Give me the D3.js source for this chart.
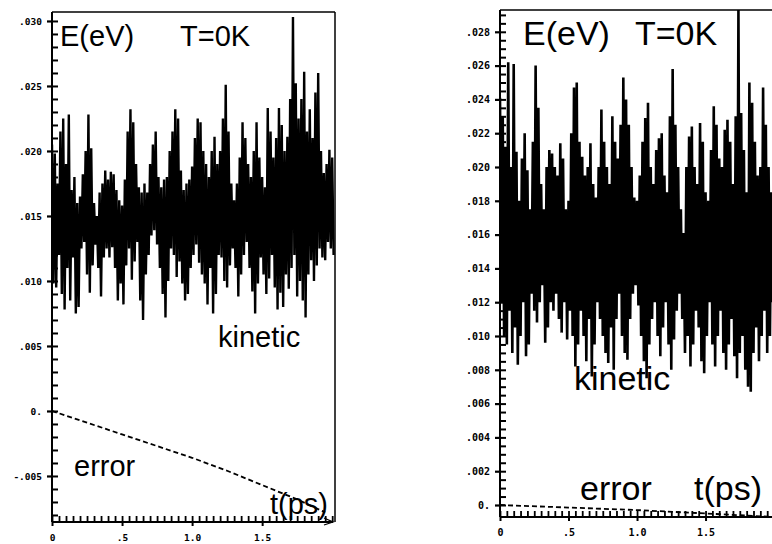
<!DOCTYPE html>
<html><head><meta charset="utf-8">
<script src="https://cdn.jsdelivr.net/npm/d3@7"></script>
<style>body{margin:0;background:#fff} svg{display:block}</style>
</head><body>
<svg id="c" width="772" height="544"></svg>
<script>
// ---- data (energies in eV, time in ps) ----
const tStep = 0.02;
const leftHi = [.0205,.0198,.0175,.0215,.0225,.0190,.0228,.0170,.0180,.0160,
 .0165,.0182,.0200,.0228,.0202,.0160,.0150,.0168,.0175,.0185,
 .0178,.0184,.0182,.0170,.0162,.0158,.0178,.0215,.0232,.0222,
 .0190,.0172,.0168,.0175,.0168,.0190,.0205,.0215,.0180,.0172,
 .0178,.0180,.0200,.0215,.0232,.0225,.0185,.0170,.0175,.0178,
 .0188,.0210,.0225,.0222,.0200,.0190,.0180,.0200,.0211,.0190,
 .0200,.0225,.0251,.0215,.0175,.0162,.0175,.0195,.0222,.0210,
 .0190,.0180,.0200,.0222,.0195,.0180,.0172,.0233,.0215,.0195,
 .0210,.0233,.0220,.0200,.0211,.0240,.0303,.0252,.0225,.0240,
 .0261,.0215,.0232,.0210,.0245,.0260,.0200,.0183,.0190,.0201,.0195];
const leftLo = [.0098,.0095,.0120,.0090,.0078,.0110,.0085,.0118,.0075,.0080,
 .0125,.0130,.0105,.0091,.0112,.0128,.0110,.0088,.0118,.0125,
 .0118,.0126,.0110,.0085,.0098,.0082,.0112,.0125,.0101,.0115,
 .0130,.0085,.0070,.0105,.0120,.0135,.0139,.0128,.0110,.0090,
 .0072,.0100,.0125,.0120,.0103,.0115,.0098,.0085,.0090,.0110,
 .0120,.0128,.0114,.0105,.0098,.0082,.0110,.0075,.0090,.0120,
 .0118,.0100,.0095,.0112,.0125,.0110,.0088,.0105,.0120,.0130,
 .0110,.0092,.0075,.0098,.0118,.0105,.0090,.0102,.0120,.0095,
 .0078,.0091,.0080,.0105,.0094,.0110,.0120,.0088,.0100,.0085,
 .0072,.0105,.0116,.0100,.0112,.0125,.0118,.0116,.0130,.0125,.0120];
const rightHi = [.0241,.0230,.0212,.0262,.0200,.0261,.0209,.0180,.0205,.0220,
 .0198,.0175,.0215,.0260,.0235,.0190,.0175,.0200,.0210,.0208,
 .0200,.0195,.0214,.0205,.0175,.0180,.0220,.0247,.0250,.0215,
 .0206,.0195,.0200,.0214,.0190,.0182,.0200,.0234,.0215,.0200,
 .0190,.0230,.0215,.0205,.0225,.0253,.0240,.0225,.0200,.0182,
 .0180,.0195,.0215,.0229,.0238,.0200,.0190,.0210,.0217,.0220,
 .0195,.0185,.0230,.0258,.0225,.0200,.0175,.0161,.0200,.0218,
 .0224,.0200,.0190,.0226,.0215,.0185,.0180,.0210,.0236,.0225,
 .0205,.0200,.0222,.0228,.0215,.0190,.0230,.0293,.0232,.0210,
 .0185,.0250,.0238,.0215,.0195,.0200,.0247,.0225,.0200,.0185];
const rightLo = [.0120,.0100,.0095,.0115,.0090,.0105,.0083,.0100,.0120,.0088,
 .0095,.0125,.0115,.0108,.0120,.0130,.0096,.0105,.0120,.0115,
 .0125,.0110,.0102,.0120,.0098,.0115,.0100,.0082,.0095,.0115,
 .0100,.0085,.0110,.0076,.0095,.0120,.0110,.0100,.0090,.0084,
 .0105,.0080,.0110,.0125,.0100,.0090,.0086,.0110,.0125,.0130,
 .0118,.0100,.0085,.0075,.0095,.0110,.0120,.0100,.0088,.0105,
 .0120,.0095,.0080,.0098,.0115,.0125,.0110,.0090,.0100,.0082,
 .0095,.0115,.0105,.0085,.0078,.0100,.0120,.0095,.0082,.0100,
 .0115,.0090,.0080,.0095,.0110,.0088,.0075,.0090,.0100,.0080,
 .0070,.0067,.0090,.0105,.0085,.0100,.0115,.0090,.0100,.0120];
const leftErrT = [0,0.25,0.5,0.75,1.0,1.25,1.5,1.75,1.95];
const leftErrV = [0,-.0009,-.0018,-.0027,-.0036,-.0046,-.0057,-.0068,-.0078];
const rightErrT = [0,0.5,1.0,1.5,1.98];
const rightErrV = [0,-.00015,-.0003,-.0005,-.0007];
const leftYTicks = [-.005,0,.005,.010,.015,.020,.025,.030];
const leftYLabels = ["-.005","0.",".005",".010",".015",".020",".025",".030"];
const rightYTicks = [0,.002,.004,.006,.008,.010,.012,.014,.016,.018,.020,.022,.024,.026,.028];
const rightYLabels = ["0.",".002",".004",".006",".008",".010",".012",".014",".016",".018",".020",".022",".024",".026",".028"];
const xTicks = [0,0.5,1.0,1.5];
const xLabels = ["0",".5","1.0","1.5"];

const svg = d3.select("#c");

function panel(cfg){
  const g = svg.append("g");
  const x = d3.scaleLinear().domain(cfg.xDom).range([cfg.left, cfg.right]);
  const y = d3.scaleLinear().domain(cfg.yDom).range([cfg.bottom, cfg.top]);
  const id = "clip"+cfg.name;
  svg.append("defs").append("clipPath").attr("id", id).append("rect")
    .attr("x", cfg.left).attr("y", cfg.top)
    .attr("width", cfg.right-cfg.left).attr("height", cfg.bottom-cfg.top);

  // kinetic energy trace (alternating upper / lower swings)
  const pts = [];
  cfg.hi.forEach((h,i)=>{ pts.push([i*tStep, h]); pts.push([i*tStep+tStep/2, cfg.lo[i]]); });
  g.append("path").datum(pts)
    .attr("clip-path","url(#"+id+")")
    .attr("fill","none").attr("stroke","#000").attr("stroke-width",cfg.kw)
    .attr("stroke-linejoin","miter").attr("stroke-miterlimit",1.5)
    .attr("d", d3.line().x(d=>x(d[0])).y(d=>y(d[1])));

  // error trace
  g.append("path").datum(cfg.errT.map((t,i)=>[t,cfg.errV[i]]))
    .attr("fill","none").attr("stroke","#000").attr("stroke-width",1.8)
    .attr("stroke-dasharray","5,3")
    .attr("d", d3.line().x(d=>x(d[0])).y(d=>y(d[1])));

  // y axis: minor ticks inside, major ticks crossing, labels
  const yMinor = d3.range(cfg.yMinorStart, cfg.yDom[1], cfg.yMinor);
  const yMin = g.append("g").attr("transform",`translate(${cfg.left},0)`)
    .call(d3.axisRight(y).tickValues(yMinor).tickSize(6).tickSizeOuter(0).tickFormat(""));
  yMin.select(".domain").remove();
  yMin.selectAll(".tick line").style("stroke","#000").style("stroke-width","2px");
  const ya = g.append("g").attr("transform",`translate(${cfg.left},0)`)
    .call(d3.axisLeft(y).tickValues(cfg.yTicks).tickSize(5).tickPadding(5)
      .tickFormat((d,i)=>cfg.yLabels[i]));
  ya.select(".domain").remove();
  ya.selectAll(".tick line").style("stroke","#000").style("stroke-width","2.2px");
  ya.selectAll("text").attr("font-family","DejaVu Sans Mono").attr("font-weight","bold")
    .attr("font-size",cfg.lblSize).attr("fill","#000");

  // x axis: minor ticks, major ticks, labels
  const xMinor = d3.range(0, cfg.xDom[1], 0.05);
  const xMin = g.append("g").attr("transform",`translate(0,${cfg.bottom})`)
    .call(d3.axisTop(x).tickValues(xMinor).tickSize(6).tickSizeOuter(0).tickFormat(""));
  xMin.select(".domain").remove();
  xMin.selectAll(".tick line").style("stroke","#000").style("stroke-width","1.8px");
  const xa = g.append("g").attr("transform",`translate(0,${cfg.bottom})`)
    .call(d3.axisBottom(x).tickValues(xTicks).tickSize(4).tickPadding(8)
      .tickFormat((d,i)=>xLabels[i]));
  xa.select(".domain").remove();
  xa.selectAll(".tick line").style("stroke","#000").style("stroke-width","2px");
  xa.selectAll("text").attr("font-family","DejaVu Sans Mono").attr("font-weight","bold")
    .attr("font-size",cfg.lblSize).attr("fill","#000");

  // frame
  g.append("line").attr("x1",cfg.left).attr("x2",cfg.left).attr("y1",cfg.top).attr("y2",cfg.bottom)
    .attr("stroke","#000").attr("stroke-width",2);
  g.append("line").attr("x1",cfg.left).attr("x2",cfg.xAxisEnd).attr("y1",cfg.bottom).attr("y2",cfg.bottom)
    .attr("stroke","#000").attr("stroke-width",2);
  g.append("line").attr("x1",cfg.left).attr("x2",cfg.right).attr("y1",cfg.top).attr("y2",cfg.top)
    .attr("stroke","#000").attr("stroke-width",1.5);
  if (cfg.rightBorder) {
    g.append("line").attr("x1",cfg.right).attr("x2",cfg.right).attr("y1",cfg.top).attr("y2",cfg.bottom)
      .attr("stroke","#000").attr("stroke-width",1.5);
    g.append("path").attr("d",`M${cfg.xAxisEnd-9},${cfg.bottom-4}L${cfg.xAxisEnd},${cfg.bottom}L${cfg.xAxisEnd-9},${cfg.bottom+3}`)
      .attr("fill","none").attr("stroke","#000").attr("stroke-width",1.3);
  }

  // annotations
  const txt = (s,px,py)=>g.append("text").attr("x",px).attr("y",py).text(s)
    .attr("font-family","Liberation Sans, Arial, sans-serif").attr("font-size",cfg.fs).attr("fill","#000");
  cfg.texts.forEach(t=>txt(t[0],t[1],t[2]));
}

panel({name:"L", left:52, right:335, top:12, bottom:522, xAxisEnd:333,
  xDom:[0,2.02], yDom:[-0.00854,0.03069], hi:leftHi, lo:leftLo, kw:2.4,
  errT:leftErrT, errV:leftErrV, yTicks:leftYTicks, yLabels:leftYLabels,
  yMinor:0.001, yMinorStart:-0.008, lblSize:9.5, fs:29, rightBorder:true,
  texts:[["E(eV)",60,46],["T=0K",180,46],["kinetic",218,347],["error",74,476],["t(ps)",270,514]]});

panel({name:"R", left:500, right:772, top:10, bottom:517, xAxisEnd:772,
  xDom:[0,1.985], yDom:[-0.00071,0.02929], hi:rightHi, lo:rightLo, kw:2.6,
  errT:rightErrT, errV:rightErrV, yTicks:rightYTicks, yLabels:rightYLabels,
  yMinor:0.0005, yMinorStart:0, lblSize:10, fs:34, rightBorder:false,
  texts:[["E(eV)",523,45],["T=0K",635,45],["kinetic",574,390],["error",580,500],["t(ps)",694,500]]});
</script>
</body></html>
